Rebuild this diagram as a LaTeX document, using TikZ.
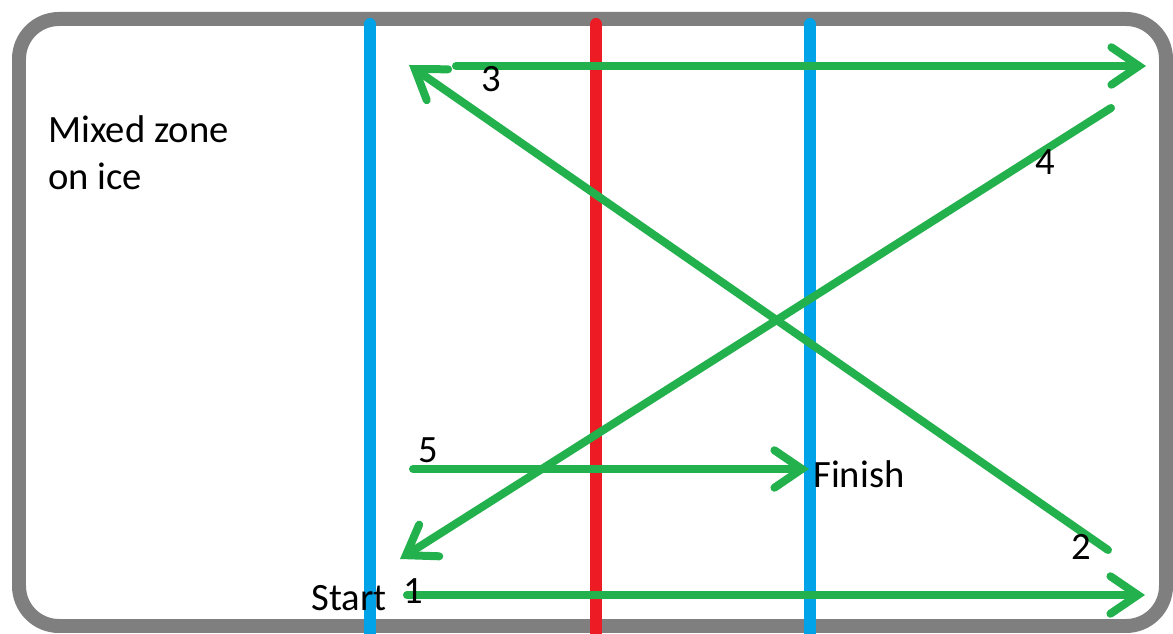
\documentclass[tikz,border=0pt]{standalone}
\usepackage{fontspec}
\setmainfont{Carlito}
\usetikzlibrary{arrows.meta, positioning}

\definecolor{rinkgray}{HTML}{7F7F7F}
\definecolor{lineblue}{HTML}{00A2E8}
\definecolor{linered}{HTML}{ED1C24}
\definecolor{pathgreen}{HTML}{22B14C}

\tikzset{
	lbl/.style={font=\fontsize{22}{27}\selectfont, inner sep=0pt},
	skate/.style={pathgreen, line width=0.16cm, line cap=round,
		-{Straight Barb[length=0.55cm, width=0.75cm, line cap=round]}},
}

\begin{document}
\begin{tikzpicture}[x=0.02cm, y=-0.02cm]
		\useasboundingbox (0,0) rectangle (1173,634);
		
		% Rink border
		\draw[rinkgray, line width=0.28cm, rounded corners=0.8cm]
		(19,19) rectangle (1166,626);
		
		% Blue and red lines
		\foreach \xpos/\col in {370/lineblue, 596/linered, 810/lineblue} {
			\draw[\col, line width=0.24cm, line cap=round] (\xpos,24) -- (\xpos,640);
		}
		
		% Path ends
		\coordinate (s1) at (407,595);  \coordinate (e1) at (1145,595);
		\coordinate (s2) at (1108,550); \coordinate (e2) at (409,65);
		\coordinate (s3) at (456,66);   \coordinate (e3) at (1146,66);
		\coordinate (s4) at (1111,108); \coordinate (e4) at (400,559);
		\coordinate (s5) at (413,469);  \coordinate (e5) at (809,469);
		
		% Skating path
		\foreach \i in {1,...,5} {
			\draw[skate] (s\i) -- (e\i);
		}
		
		% Labels
		\node[lbl, anchor=base west] (mixed) at (48,143) {Mixed zone};
		\node[lbl, anchor=base west] (onice) at (48,190) {on ice};
		\node[lbl, anchor=base west] (start) at (311,610) {Start};
		\node[lbl, anchor=base west] (finish) at (813,488) {Finish};
		\node[lbl, anchor=base] (n1) at (413,603) {1};
		\node[lbl, anchor=base] (n2) at (1081,560) {2};
		\node[lbl, anchor=base] (n3) at (491,92) {3};
		\node[lbl, anchor=base] (n4) at (1045,175) {4};
		\node[lbl, anchor=base] (n5) at (428,463) {5};
		
	\end{tikzpicture}
\end{document}
